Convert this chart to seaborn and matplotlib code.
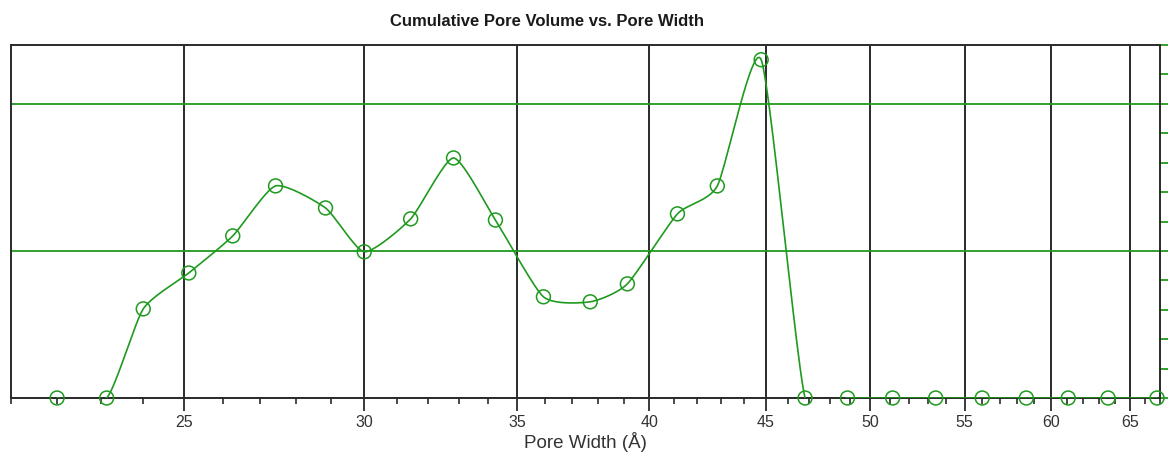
import numpy as np
import pandas as pd
import matplotlib
matplotlib.use("Agg")
import matplotlib.pyplot as plt
from matplotlib.ticker import FixedLocator, NullFormatter
import seaborn as sns

# ---- data ----
pore_width = [22.0, 23.13, 24.0, 25.13, 26.27, 27.43, 28.85, 30.0, 31.44, 32.83,
              34.25, 35.95, 37.69, 39.13, 41.16, 42.85, 44.79, 46.82, 48.87, 51.15,
              53.42, 55.99, 58.54, 61.07, 63.58, 66.8]
pore_volume = [0.0, 0.0, 3.03, 4.25, 5.51, 7.21, 6.46, 4.97, 6.09, 8.16,
               6.05, 3.44, 3.27, 3.88, 6.26, 7.21, 11.5, 0.0, 0.0, 0.0,
               0.0, 0.0, 0.0, 0.0, 0.0, 0.0]
x_tick_values = [25, 30, 35, 40, 45, 50, 55, 60, 65]
x_tick_labels = ["25", "30", "35", "40", "45", "50", "55", "60", "65"]
title_text = "Cumulative Pore Volume vs. Pore Width"
x_label = "Pore Width (Å)"

GREEN = "#1f9a1f"
DARK = "#2a2a2a"

sns.set_style("white")
plt.rcParams["font.family"] = ["Liberation Sans", "DejaVu Sans"]

fig = plt.figure(figsize=(11.68, 4.57), dpi=100)
ax = fig.add_axes([11 / 1168, 1 - 398 / 457, (1160 - 11) / 1168, (398 - 45) / 457])

ax.set_xscale("log")
ax.set_xlim(21, 67)
ax.set_ylim(0, 12)

# smooth curve: parametric cardinal spline computed in display space
TENSION = 0.3
pts = ax.transData.transform(np.column_stack([pore_width, pore_volume]))
P = np.vstack([pts[0], pts, pts[-1]])
curve = []
for i in range(1, len(P) - 2):
    p0, p1, p2, p3 = P[i - 1], P[i], P[i + 1], P[i + 2]
    c1 = p1 + TENSION * (p2 - p0) / 3.0
    c2 = p2 - TENSION * (p3 - p1) / 3.0
    t = np.linspace(0, 1, 40)[:, None]
    seg = ((1 - t) ** 3) * p1 + 3 * ((1 - t) ** 2) * t * c1 + 3 * (1 - t) * t ** 2 * c2 + t ** 3 * p2
    curve.append(seg if i == 1 else seg[1:])
curve = np.vstack(curve)
curve_data = ax.transData.inverted().transform(curve)
curve_df = pd.DataFrame({"w": curve_data[:, 0], "v": curve_data[:, 1]})

sns.lineplot(data=curve_df, x="w", y="v", sort=False, estimator=None,
             color=GREEN, lw=1.2, ax=ax, zorder=3)

pts_df = pd.DataFrame({"w": pore_width, "v": pore_volume})
sns.scatterplot(data=pts_df, x="w", y="v", ax=ax, s=100, marker="o",
                facecolor="none", edgecolor=GREEN, linewidth=1.1,
                zorder=4, clip_on=False)

# axes styling
ax.set_xlim(21, 67)
ax.set_ylim(0, 12)
ax.set_xticks(x_tick_values, x_tick_labels)
ax.xaxis.set_minor_locator(FixedLocator([v for v in range(21, 68) if v not in x_tick_values]))
ax.xaxis.set_minor_formatter(NullFormatter())
ax.tick_params(axis="x", which="major", length=9, width=1.3, color=DARK,
               direction="out", pad=3, labelsize=11.5, labelcolor="#333333",
               bottom=True, top=False)
ax.tick_params(axis="x", which="minor", length=4.5, width=1.2, color=DARK,
               direction="out", bottom=True, top=False)

ax.yaxis.set_major_locator(FixedLocator([0, 5, 10]))
ax.yaxis.set_minor_locator(FixedLocator([1, 2, 3, 4, 6, 7, 8, 9, 11, 12]))
ax.yaxis.set_major_formatter(NullFormatter())
ax.yaxis.set_minor_formatter(NullFormatter())
ax.tick_params(axis="y", which="both", left=False, right=True, labelleft=False,
               labelright=False, length=6, width=1.3, color=GREEN, direction="out")

ax.grid(False)
ax.grid(axis="x", which="major", color=DARK, lw=1.4)
ax.grid(axis="y", which="major", color=GREEN, lw=1.3)
ax.set_axisbelow(True)

for side in ["left", "right", "top", "bottom"]:
    ax.spines[side].set_visible(True)
    ax.spines[side].set_color(DARK)
    ax.spines[side].set_linewidth(1.4)

ax.set_xlabel(x_label, fontsize=13.5, color="#333333", labelpad=2)
ax.set_ylabel("")
fig.text(546.5 / 1168, 1 - 22 / 457, title_text, ha="center", va="center",
         fontsize=12, fontweight="bold", color="#1a1a1a")

fig.savefig("out.png", dpi=100)
